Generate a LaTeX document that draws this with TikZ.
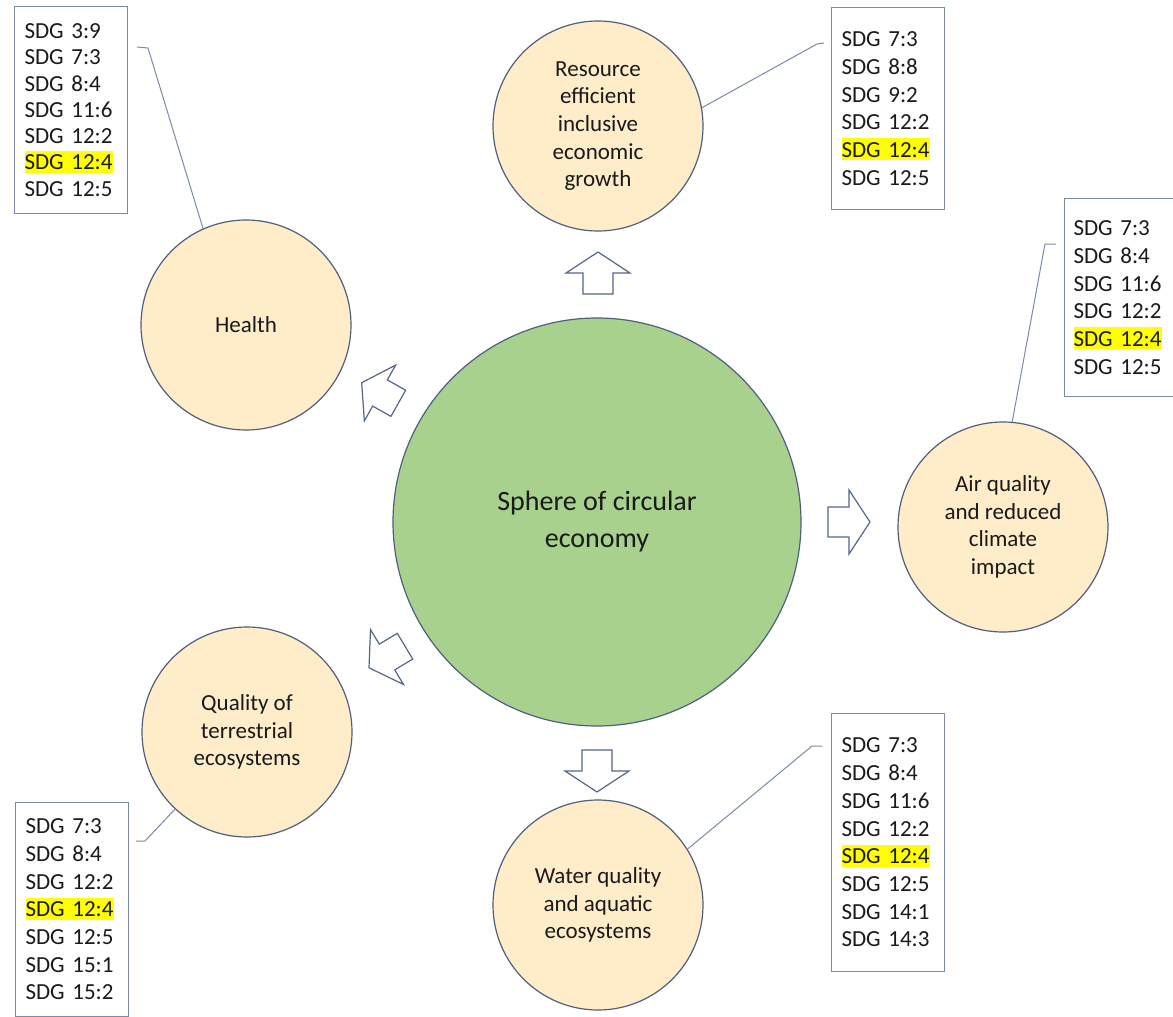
\documentclass[tikz,border=0pt]{standalone}
\usepackage{fontspec}
\setmainfont{Carlito}
\usetikzlibrary{calc}
\definecolor{peach}{HTML}{FFEDC9}
\definecolor{coregreen}{HTML}{A9D18E}
\definecolor{circline}{HTML}{4F5F7D}
\definecolor{boxline}{HTML}{7A8AAA}
\definecolor{arrline}{HTML}{56668A}
\definecolor{hly}{HTML}{FFFF00}
\definecolor{txt}{HTML}{1A1A1A}
\newcommand\hlt[1]{{\setlength\fboxsep{0pt}\colorbox{hly}{\rule[-3pt]{0pt}{22pt}#1}}}
\newcommand\boxfont{\fontsize{23}{27.7}\selectfont}
\newcommand\boxfonttight{\fontsize{23}{26.3}\selectfont}
\newcommand\corefont{\fontsize{28}{37}\selectfont}
\tikzset{
  sdgbox/.style={draw=boxline, line width=1pt, fill=white, rectangle, anchor=north west,
    align=left, inner xsep=10pt, text width=93pt, font=\boxfont, text=txt},
  topic/.style={circle, draw=circline, fill=peach, line width=1.2pt, minimum size=210pt,
    inner sep=0pt, align=center, font=\boxfont, text=txt},
  core/.style={circle, draw=circline, fill=coregreen, line width=1.2pt, minimum size=408pt,
    inner sep=0pt, align=center, font=\corefont, text=txt},
  callout/.style={draw=boxline, line width=1pt},
  blockarrow/.pic={\draw[draw=arrline, line width=1.2pt, fill=white, line join=miter]
    (-21,-15) -- (0,-15) -- (0,-32) -- (21,0) -- (0,32) -- (0,15) -- (-21,15) -- cycle;}
}
\begin{document}
\begin{tikzpicture}[x=1pt,y=1pt]
\useasboundingbox (0,0) rectangle (1173,-1017);
\fill[white] (0,0) rectangle (1173,-1017);

% central sphere
\node[core] (core) at (597,-522) {Sphere of circular\\economy};

% topic circles
\node[topic] (res) at (598,-126) {Resource\\efficient\\inclusive\\economic\\growth};
\node[topic] (health) at (246,-325) {Health};
\node[topic] (air) at (1003,-527) {Air quality\\and reduced\\climate\\impact};
\node[topic] (terr) at (247,-732) {Quality of\\terrestrial\\ecosystems};
\node[topic] (water) at (598,-905) {Water quality\\and aquatic\\ecosystems};

% block arrows
\pic[rotate=90] at (598,-273) {blockarrow};
\pic[rotate=0] at (849,-522) {blockarrow};
\pic[rotate=-90] at (597,-771) {blockarrow};
\pic[rotate=150.7] at (380,-393) {blockarrow};
\pic[rotate=211] at (387,-657) {blockarrow};

% SDG boxes
\node[sdgbox, font=\boxfonttight, minimum height=207pt] (b1) at (14,-6)
  {SDG 3:9\\SDG 7:3\\SDG 8:4\\SDG 11:6\\SDG 12:2\\\hlt{SDG 12:4}\\SDG 12:5};
\node[sdgbox, minimum height=202pt] (b2) at (831,-7)
  {SDG 7:3\\SDG 8:8\\SDG 9:2\\SDG 12:2\\\hlt{SDG 12:4}\\SDG 12:5};
\node[sdgbox, inner xsep=9pt, text width=92pt, minimum height=198pt] (b3) at (1064,-198)
  {SDG 7:3\\SDG 8:4\\SDG 11:6\\SDG 12:2\\\hlt{SDG 12:4}\\SDG 12:5};
\node[sdgbox, minimum height=214pt] (b4) at (15,-802)
  {SDG 7:3\\SDG 8:4\\SDG 12:2\\\hlt{SDG 12:4}\\SDG 12:5\\SDG 15:1\\SDG 15:2};
\node[sdgbox, minimum height=258pt] (b5) at (831,-713)
  {SDG 7:3\\SDG 8:4\\SDG 11:6\\SDG 12:2\\\hlt{SDG 12:4}\\SDG 12:5\\SDG 14:1\\SDG 14:3};

% callout lines
\coordinate (k1a) at (137,-47);
\coordinate (k1b) at (148,-48);
\draw[callout] (k1a) -- (k1b) -- (health.114);
\coordinate (k2a) at (824,-43);
\coordinate (k2b) at (817,-44);
\draw[callout] (k2a) -- (k2b) -- (res.10);
\coordinate (k3a) at (1056,-244);
\coordinate (k3b) at (1045,-244);
\draw[callout] (k3a) -- (k3b) -- (air.85);
\coordinate (k4a) at (136,-841);
\coordinate (k4b) at (145,-841);
\draw[callout] (k4a) -- (k4b) -- (terr.227);
\coordinate (k5a) at (822,-746);
\coordinate (k5b) at (812,-746);
\draw[callout] (k5a) -- (k5b) -- (water.32);
\end{tikzpicture}
\end{document}
